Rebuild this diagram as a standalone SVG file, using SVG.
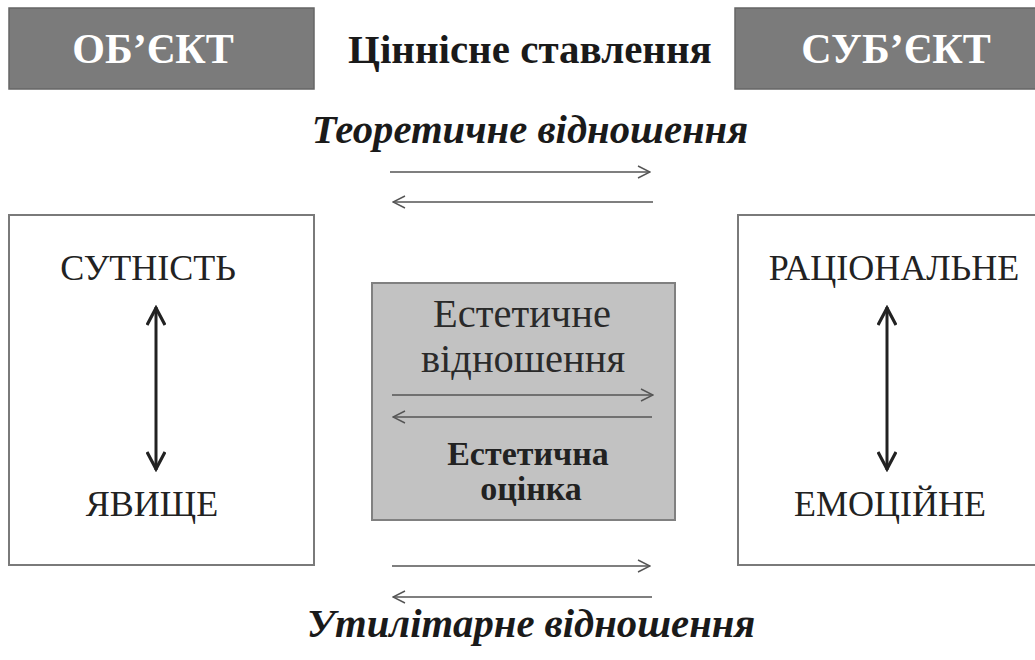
<svg xmlns="http://www.w3.org/2000/svg" width="1035" height="660" viewBox="0 0 1035 660">
<defs>
<style>
.hdr{fill:#7b7b7b;stroke:#666;stroke-width:1.5}
.hdrt{font-family:"Liberation Serif","Times New Roman",serif;font-weight:bold;font-size:42px;fill:#fff;text-anchor:middle}
.ttl{font-family:"Liberation Serif","Times New Roman",serif;font-weight:bold;font-size:41px;fill:#1a1a1a}
.rel{font-family:"Liberation Serif","Times New Roman",serif;font-weight:bold;font-style:italic;font-size:40.7px;fill:#1a1a1a;text-anchor:middle}
.box{fill:#fff;stroke:#7a7a7a;stroke-width:2}
.cbox{fill:#c2c2c2;stroke:#808080;stroke-width:2}
.lbl{font-family:"Liberation Serif","Times New Roman",serif;font-size:36px;fill:#222;text-anchor:middle}
.est{font-family:"Liberation Serif","Times New Roman",serif;font-size:40.5px;fill:#2a2a2a;text-anchor:middle}
.estb{font-family:"Liberation Serif","Times New Roman",serif;font-weight:bold;font-size:34px;fill:#222;text-anchor:middle}
.thin{fill:none;stroke:#555;stroke-width:1.6}
.thick{fill:none;stroke:#222;stroke-width:3}
</style>
<marker id="open" viewBox="0 0 14 14" refX="13" refY="7" markerWidth="14" markerHeight="14" markerUnits="userSpaceOnUse" orient="auto-start-reverse">
<path d="M1,1 L13,7 L1,13" fill="none" stroke="#555" stroke-width="1.4"/>
</marker>
<marker id="bold" viewBox="0 0 24 20" refX="22" refY="10" markerWidth="24" markerHeight="20" markerUnits="userSpaceOnUse" orient="auto-start-reverse">
<path d="M4,1 L21,10 L4,19" fill="none" stroke="#222" stroke-width="3.2" stroke-linejoin="miter"/>
</marker>
</defs>

<g id="object">
<rect class="hdr" x="9" y="8" width="305" height="81"/>
<text class="hdrt" x="153" y="63">ОБ’ЄКТ</text>
</g>
<g id="title">
<text class="ttl" x="348" y="63">Ціннісне ставлення</text>
</g>
<g id="subject">
<rect class="hdr" x="735" y="8" width="305" height="81"/>
<text class="hdrt" x="896" y="63">СУБ’ЄКТ</text>
</g>

<g id="theoretical">
<text class="rel" x="530" y="143">Теоретичне відношення</text>
</g>

<g id="essence-box">
<rect class="box" x="9" y="215" width="305" height="350"/>
<text class="lbl" x="148" y="280">СУТНІСТЬ</text>
<text class="lbl" x="152" y="516">ЯВИЩЕ</text>
</g>

<g id="rational-box">
<rect class="box" x="738" y="215" width="300" height="350"/>
<text class="lbl" x="894" y="280">РАЦІОНАЛЬНЕ</text>
<text class="lbl" x="890" y="516">ЕМОЦІЙНЕ</text>
</g>

<g id="aesthetic-box">
<rect class="cbox" x="372" y="283" width="303" height="237"/>
<text class="est" x="522" y="327">Естетичне</text>
<text class="est" x="523" y="372">відношення</text>
<text class="estb" x="528" y="465">Естетична</text>
<text class="estb" x="531" y="500">оцінка</text>
</g>

<g id="utilitarian">
<text class="rel" x="531" y="637">Утилітарне відношення</text>
</g>

<g id="connectors">
<line class="thin" x1="390" y1="172" x2="650" y2="172" marker-end="url(#open)"/>
<line class="thin" x1="653" y1="202" x2="393" y2="202" marker-end="url(#open)"/>
<line class="thin" x1="392" y1="395" x2="653" y2="395" marker-end="url(#open)"/>
<line class="thin" x1="652" y1="417" x2="393" y2="417" marker-end="url(#open)"/>
<line class="thin" x1="392" y1="566" x2="650" y2="566" marker-end="url(#open)"/>
<line class="thin" x1="652" y1="597" x2="393" y2="597" marker-end="url(#open)"/>
<line class="thick" x1="156" y1="307" x2="156" y2="470" marker-start="url(#bold)" marker-end="url(#bold)"/>
<line class="thick" x1="887" y1="307" x2="887" y2="470" marker-start="url(#bold)" marker-end="url(#bold)"/>
</g>
</svg>
